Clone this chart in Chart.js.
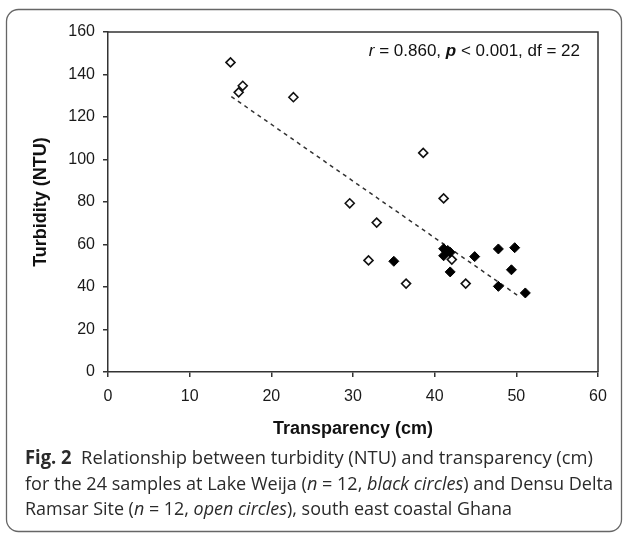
<!DOCTYPE html>
<html>
<head>
<meta charset="utf-8">
<script src="https://cdn.jsdelivr.net/npm/chart.js@4.4.1/dist/chart.umd.min.js"></script>
<style>
  html, body { margin: 0; padding: 0; background: #fff; }
  #wrap { width: 626px; height: 534px; position: relative; }
</style>
</head>
<body>
<div id="wrap"><canvas id="chart" width="626" height="534"></canvas></div>
<script>
// Lake Weija (black diamonds)
const weijaTransparency = [35.0, 41.1, 41.1, 41.6, 41.9, 41.9, 44.9, 47.8, 49.8, 49.4, 47.8, 51.1];
const weijaTurbidity    = [52.1, 58.0, 54.7, 57.2, 56.3, 47.1, 54.3, 57.9, 58.5, 48.1, 40.3, 37.2];
// Densu Delta Ramsar Site (open diamonds)
const densuTransparency = [15.0, 16.0, 16.5, 22.7, 38.6, 29.6, 32.9, 41.1, 31.9, 36.5, 43.8, 42.1];
const densuTurbidity    = [145.7, 131.6, 134.7, 129.3, 103.1, 79.4, 70.3, 81.7, 52.5, 41.6, 41.6, 52.9];
// fitted line, end points
const trendX = [15.1, 50.4];
const trendY = [129.6, 35.4];

const xTicks = [0, 10, 20, 30, 40, 50, 60];
const yTicks = [0, 20, 40, 60, 80, 100, 120, 140, 160];

const statsText = [
  { t: "r", f: "italic 17px 'Liberation Sans', Arial" },
  { t: " = 0.860, ", f: "17px 'Liberation Sans', Arial" },
  { t: "p", f: "italic bold 17px 'Liberation Sans', Arial" },
  { t: " < 0.001, df = 22", f: "17px 'Liberation Sans', Arial" }
];

const capFont = "'Open Sans', 'Noto Sans', sans-serif";
const caption = [
  [ { t: "Fig. 2", s: "bold" }, { t: "  Relationship between turbidity (NTU) and transparency (cm)", s: "" } ],
  [ { t: "for the 24 samples at Lake Weija (", s: "" }, { t: "n", s: "italic" }, { t: " = 12, ", s: "" },
    { t: "black circles", s: "italic" }, { t: ") and Densu Delta", s: "" } ],
  [ { t: "Ramsar Site (", s: "" }, { t: "n", s: "italic" }, { t: " = 12, ", s: "" },
    { t: "open circles", s: "italic" }, { t: "), south east coastal Ghana", s: "" } ]
];

const toPts = (xs, ys) => xs.map((x, i) => ({ x: x, y: ys[i] }));

// rounded frame, plot box, r/p text and caption
const extras = {
  id: "extras",
  beforeDraw(chart) {
    const c = chart.ctx;
    c.save();
    c.strokeStyle = "#666";
    c.lineWidth = 1.3;
    c.beginPath();
    c.roundRect(6.5, 9.5, 615, 522, 12);
    c.stroke();
    c.restore();
  },
  afterDraw(chart) {
    const c = chart.ctx;
    const a = chart.chartArea;
    c.save();
    c.strokeStyle = "#333";
    c.lineWidth = 1.5;
    c.beginPath();
    c.moveTo(a.left, a.top);
    c.lineTo(a.right, a.top);
    c.lineTo(a.right, a.bottom);
    c.stroke();

    // stats, right aligned
    c.fillStyle = "#111";
    c.textBaseline = "middle";
    let w = 0;
    statsText.forEach(p => { c.font = p.f; w += c.measureText(p.t).width; });
    let x = 580 - w;
    statsText.forEach(p => { c.font = p.f; c.fillText(p.t, x, 51); x += c.measureText(p.t).width; });

    // caption
    const size = 19;
    const targets = [568, 588, 487];
    const ys = [459, 484.5, 510];
    c.fillStyle = "#2a2a2a";
    caption.forEach((line, i) => {
      let lw = 0;
      line.forEach(p => { c.font = p.s + " " + size + "px " + capFont; lw += c.measureText(p.t).width; });
      const k = targets[i] / lw;
      c.save();
      c.translate(25, ys[i]);
      c.scale(k, 1);
      let cx = 0;
      line.forEach(p => {
        c.font = p.s + " " + size + "px " + capFont;
        c.fillText(p.t, cx, 0);
        cx += c.measureText(p.t).width;
      });
      c.restore();
    });
    c.restore();
  }
};

const tickFont = { family: "'Liberation Sans', Arial", size: 16 };
const titleFont = { family: "'Liberation Sans', Arial", size: 18, weight: "bold" };

new Chart(document.getElementById("chart"), {
  type: "scatter",
  data: {
    datasets: [
      {
        label: "Lake Weija",
        data: toPts(weijaTransparency, weijaTurbidity),
        pointStyle: "rectRot",
        pointRadius: 5,
        backgroundColor: "#000",
        borderColor: "#000",
        borderWidth: 1
      },
      {
        label: "Densu Delta",
        data: toPts(densuTransparency, densuTurbidity),
        pointStyle: "rectRot",
        pointRadius: 4.5,
        backgroundColor: "#fff",
        borderColor: "#111",
        borderWidth: 1.6
      },
      {
        label: "trend",
        data: toPts(trendX, trendY),
        type: "line",
        showLine: true,
        pointRadius: 0,
        borderColor: "#333",
        borderWidth: 1.5,
        borderDash: [4, 4],
        fill: false
      }
    ]
  },
  options: {
    responsive: false,
    animation: false,
    events: [],
    layout: { padding: { left: 0, top: 32, right: 28, bottom: 92 } },
    plugins: { legend: { display: false }, tooltip: { enabled: false } },
    scales: {
      x: {
        type: "linear",
        min: 0,
        max: 60,
        afterBuildTicks: s => { s.ticks = xTicks.map(v => ({ value: v })); },
        afterFit: s => { s.height = 70; },
        ticks: { font: tickFont, color: "#1a1a1a", padding: 10 },
        grid: { drawOnChartArea: false, drawTicks: true, tickLength: 5, color: "#333", lineWidth: 1.5 },
        border: { display: true, color: "#333", width: 1.5 },
        title: { display: true, text: "Transparency (cm)", font: titleFont, color: "#111", padding: { top: 0, bottom: 2 } }
      },
      y: {
        type: "linear",
        min: 0,
        max: 160,
        afterBuildTicks: s => { s.ticks = yTicks.map(v => ({ value: v })); },
        afterFit: s => { s.width = 108; },
        ticks: { font: tickFont, color: "#1a1a1a", padding: 8 },
        grid: { drawOnChartArea: false, drawTicks: true, tickLength: 5, color: "#333", lineWidth: 1.5 },
        border: { display: true, color: "#333", width: 1.5 },
        title: { display: true, text: "Turbidity (NTU)", font: titleFont, color: "#111", padding: { top: 30, bottom: 0 } }
      }
    }
  },
  plugins: [extras]
});
</script>
</body>
</html>
